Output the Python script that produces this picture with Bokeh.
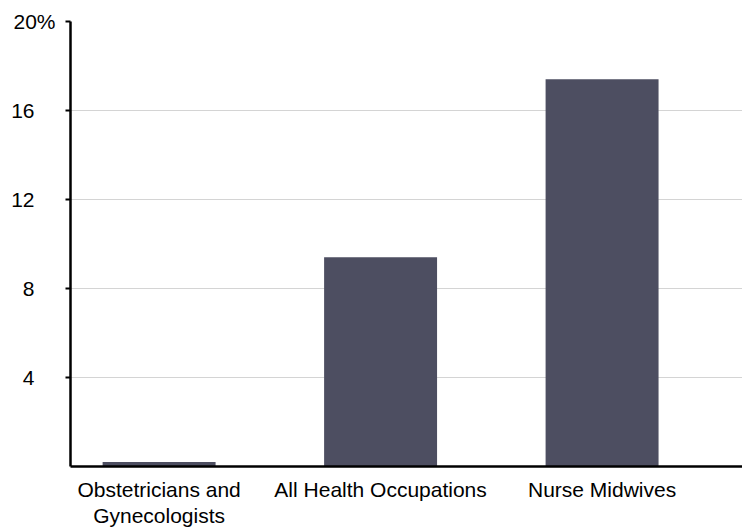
from bokeh.plotting import figure
from bokeh.models import Range1d, FixedTicker, ColumnDataSource, LinearAxis
from bokeh.embed import file_html
from bokeh.resources import INLINE

categories = ["Obstetricians and\nGynecologists", "All Health Occupations", "Nurse Midwives"]
values = [0.2, 9.4, 17.4]
y_ticks = [4, 8, 12, 16, 20]
y_tick_labels = ["4", "8", "12", "16", "20%"]

positions = [i + 0.5 for i in range(len(categories))]
src = ColumnDataSource(dict(x=positions, top=values))

X0, X1 = 0.10, 3.134
p = figure(width=742, height=529, output_backend="svg", toolbar_location=None,
           x_range=Range1d(X0, X1), y_range=Range1d(0, 20),
           min_border_left=70, min_border_right=0, min_border_top=21, min_border_bottom=63)
p.outline_line_color = None
p.background_fill_color = "white"

p.vbar(x="x", top="top", bottom=0, width=0.51, source=src, color="#4d4e61", line_color=None)

FONT = "Liberation Sans"
FS = "21px"

# main axis: line, ticks and the top label (with the unit)
ya = p.yaxis[0]
ya.ticker = FixedTicker(ticks=y_ticks)
ya.major_label_overrides = {t: (l if t == y_ticks[-1] else "") for t, l in zip(y_ticks, y_tick_labels)}
ya.axis_line_color = "black"
ya.axis_line_width = 2.5
ya.major_tick_line_color = "black"
ya.major_tick_line_width = 2
ya.major_tick_out = 5
ya.major_tick_in = 0
ya.minor_tick_line_color = None
ya.major_label_text_font = FONT
ya.major_label_text_font_size = FS
ya.major_label_text_color = "black"
ya.major_label_standoff = 10

# second axis: the plain numbers, aligned with the digits of the top label
yb = LinearAxis(ticker=FixedTicker(ticks=y_ticks[:-1]),
                major_label_overrides={t: l for t, l in zip(y_ticks[:-1], y_tick_labels[:-1])},
                axis_line_color=None, major_tick_line_color=None, minor_tick_line_color=None,
                major_tick_out=0, major_tick_in=0,
                major_label_text_font=FONT, major_label_text_font_size=FS,
                major_label_text_color="black", major_label_standoff=-24)
p.add_layout(yb, "left")

xa = p.xaxis[0]
xa.ticker = FixedTicker(ticks=positions)
xa.major_label_overrides = {pos: c for pos, c in zip(positions, categories)}
xa.axis_line_color = "black"
xa.axis_line_width = 2.5
xa.major_tick_line_color = None
xa.minor_tick_line_color = None
xa.major_label_text_font = FONT
xa.major_label_text_font_size = FS
xa.major_label_text_color = "black"
xa.major_label_standoff = 5
xa.major_label_text_line_height = 1.15

p.xgrid.grid_line_color = None
p.ygrid.ticker = FixedTicker(ticks=y_ticks)
p.ygrid.grid_line_color = "#d4d4d4"
p.ygrid.grid_line_width = 1

open("out.html", "w").write(file_html(p, INLINE))
